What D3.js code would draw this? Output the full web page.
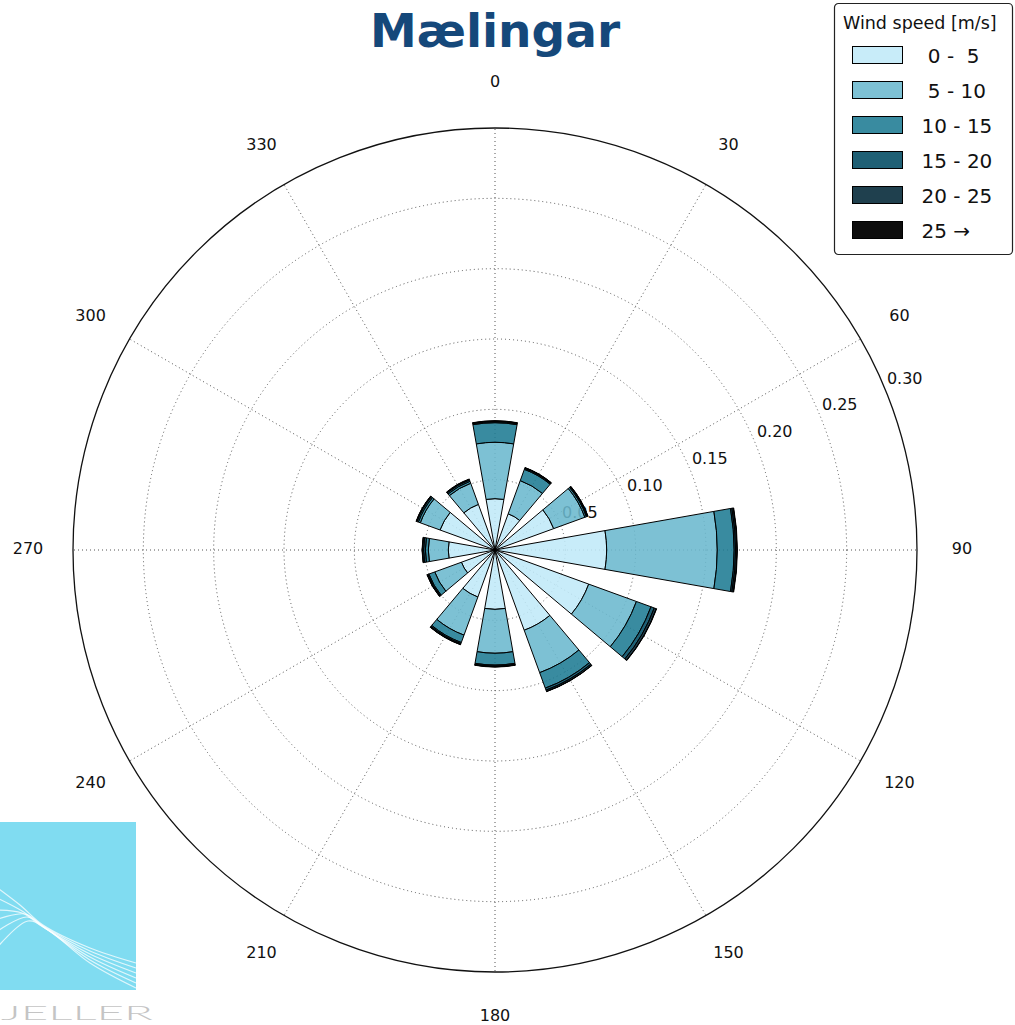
<!DOCTYPE html>
<html>
<head>
<meta charset="utf-8">
<script src="https://cdn.jsdelivr.net/npm/d3@7"></script>
<style>
  body { margin: 0; background: #fff; }
  text { font-family: "DejaVu Sans", Verdana, sans-serif; }
</style>
</head>
<body>
<svg id="chart" width="1015" height="1025"></svg>
<script>
// Wind directions (degrees, clockwise from north)
const directions = [0, 30, 60, 90, 120, 150, 180, 210, 240, 270, 300, 330];

// Wind speed classes and their colours
const speedLabels = [" 0 -  5", " 5 - 10", "10 - 15", "15 - 20", "20 - 25", "25 \u2192"];
const speedColors = ["#c0e9f8", "#6bb8ce", "#1e7b93", "#004a62", "#002636", "#000000"];

// Frequency of each speed class per direction (fraction of all records)
const freq0to5   = [0.0365, 0.0274, 0.0444, 0.0794, 0.0709, 0.0607, 0.0422, 0.0356, 0.0254, 0.0332, 0.0416, 0.0345];
const freq5to10  = [0.0401, 0.0251, 0.0236, 0.0786, 0.0361, 0.0321, 0.0312, 0.0288, 0.0202, 0.0142, 0.0149, 0.0160];
const freq10to15 = [0.0139, 0.0085, 0.0012, 0.0120, 0.0110, 0.0117, 0.0084, 0.0056, 0.0044, 0.0021, 0.0015, 0.0015];
const freq15to20 = [0.0007, 0.0007, 0.0006, 0.0010, 0.0025, 0.0015, 0.0007, 0.0008, 0.0007, 0.0013, 0.0010, 0.0010];
const freq20to25 = [0.0005, 0.0005, 0.0004, 0.0010, 0.0015, 0.0010, 0.0005, 0.0007, 0.0006, 0.0009, 0.0005, 0.0005];
const freq25up   = [0.0002, 0.0002, 0.0002, 0.0003, 0.0003, 0.0002, 0.0002, 0.0002, 0.0002, 0.0002, 0.0002, 0.0002];

// Axis ticks
const radialTicks = [0.05, 0.10, 0.15, 0.20, 0.25, 0.30];
const angleTicks = [0, 30, 60, 90, 120, 150, 180, 210, 240, 270, 300, 330];
const chartTitle = "M\u00e6lingar";
const legendTitle = "Wind speed [m/s]";

const svg = d3.select("#chart");
const cx = 495, cy = 550, R = 422;
const rMax = 0.30;
const sectorWidth = 20; // degrees of each bar
const toRad = d => d * Math.PI / 180;

const r = d3.scaleLinear().domain([0, rMax]).range([0, R]);

// ---------- logo (bottom left) ----------
const logo = svg.append("g").attr("class", "logo");
logo.append("rect")
  .attr("x", 0).attr("y", 822).attr("width", 136).attr("height", 168)
  .attr("fill", "#80dcf1");
const logoCurves = [
  [[-5, 886], [20, 905], [43, 925], [90, 948], [136, 963]],
  [[-5, 897], [22, 911], [43, 926], [90, 951], [136, 968]],
  [[-5, 910], [22, 913], [43, 927], [90, 954], [136, 973]],
  [[-5, 920], [25, 914], [44, 927], [90, 957], [136, 978]],
  [[-5, 933], [27, 917], [45, 928], [90, 960], [136, 983]],
  [[-5, 950], [28, 921], [48, 930], [90, 963], [136, 988]]
];
const logoLine = d3.line().curve(d3.curveCatmullRom.alpha(0.5));
logo.selectAll("path.wave").data(logoCurves).join("path")
  .attr("class", "wave")
  .attr("d", logoLine)
  .attr("fill", "none")
  .attr("stroke", "#ffffff")
  .attr("stroke-opacity", 0.75)
  .attr("stroke-width", 1.2);
logo.append("text")
  .attr("x", 1).attr("y", 1020)
  .attr("textLength", 152).attr("lengthAdjust", "spacingAndGlyphs")
  .attr("font-size", 20)
  .attr("fill", "#c4c4c4")
  .style("font-family", "Lato, 'Open Sans', sans-serif")
  .style("font-weight", 300)
  .text("JELLER");

// ---------- polar grid ----------
const grid = svg.append("g").attr("transform", `translate(${cx},${cy})`);

grid.selectAll("circle.ring").data(radialTicks.filter(t => t < rMax)).join("circle")
  .attr("class", "ring")
  .attr("r", d => r(d))
  .attr("fill", "none")
  .attr("stroke", "#555")
  .attr("stroke-width", 1)
  .attr("stroke-dasharray", "1,3");

grid.selectAll("line.spoke").data(angleTicks).join("line")
  .attr("class", "spoke")
  .attr("x1", 0).attr("y1", 0)
  .attr("x2", d => R * Math.sin(toRad(d)))
  .attr("y2", d => -R * Math.cos(toRad(d)))
  .attr("stroke", "#555")
  .attr("stroke-width", 1)
  .attr("stroke-dasharray", "1,3");

grid.append("circle")
  .attr("r", R)
  .attr("fill", "none")
  .attr("stroke", "#111")
  .attr("stroke-width", 1.3);

// angle labels
grid.selectAll("text.angle").data(angleTicks).join("text")
  .attr("class", "angle")
  .attr("x", d => (R + 45) * Math.sin(toRad(d)))
  .attr("y", d => -(R + 45) * Math.cos(toRad(d)) - 1.5)
  .attr("text-anchor", "middle")
  .attr("dominant-baseline", "central")
  .attr("font-size", 16)
  .attr("fill", "#111")
  .text(d => d);

// radial labels along 67.5 degrees
const labelAngle = toRad(67.5);
grid.selectAll("text.rlabel").data(radialTicks).join("text")
  .attr("class", "rlabel")
  .attr("x", d => r(d) * Math.sin(labelAngle) + 2)
  .attr("y", d => -r(d) * Math.cos(labelAngle) - 5)
  .attr("font-size", 16)
  .attr("fill", "#111")
  .text(d => d3.format(".2f")(d));

// ---------- stacked wind rose bars ----------
const seriesValues = [freq0to5, freq5to10, freq10to15, freq15to20, freq20to25, freq25up];
const segments = [];
directions.forEach((dir, i) => {
  let acc = 0;
  seriesValues.forEach((vals, k) => {
    segments.push({ dir, k, r0: acc, r1: acc + vals[i] });
    acc += vals[i];
  });
});

const arc = d3.arc()
  .innerRadius(d => r(d.r0))
  .outerRadius(d => r(d.r1))
  .startAngle(d => toRad(d.dir - sectorWidth / 2))
  .endAngle(d => toRad(d.dir + sectorWidth / 2));

grid.selectAll("path.bar").data(segments).join("path")
  .attr("class", "bar")
  .attr("d", arc)
  .attr("fill", d => speedColors[d.k])
  .attr("fill-opacity", 0.88)
  .attr("stroke", "#000")
  .attr("stroke-width", 1)
  .attr("stroke-linejoin", "miter");

// ---------- title ----------
svg.append("text")
  .attr("x", 495).attr("y", 47)
  .attr("text-anchor", "middle")
  .attr("font-size", 47)
  .attr("font-weight", "bold")
  .attr("fill", "#15487a")
  .text(chartTitle);

// ---------- legend ----------
const legend = svg.append("g").attr("transform", "translate(834.5,3.5)");
legend.append("rect")
  .attr("width", 178).attr("height", 251).attr("rx", 4)
  .attr("fill", "#fff").attr("stroke", "#222").attr("stroke-width", 1.2);
legend.append("text")
  .attr("x", 8.5).attr("y", 25.5)
  .attr("font-size", 17.5)
  .attr("fill", "#111")
  .text(legendTitle);
const items = legend.selectAll("g.item").data(speedLabels).join("g")
  .attr("class", "item")
  .attr("transform", (d, i) => `translate(0,${51.5 + i * 35})`);
items.append("rect")
  .attr("x", 18).attr("y", -8.5).attr("width", 50).attr("height", 17)
  .attr("fill", (d, i) => speedColors[i])
  .attr("fill-opacity", (d, i) => i === speedLabels.length - 1 ? 0.95 : 0.88)
  .attr("stroke", "#000").attr("stroke-width", 1);
items.append("text")
  .attr("x", 87).attr("y", 7.5)
  .attr("font-size", 20)
  .attr("fill", "#111")
  .attr("xml:space", "preserve")
  .style("white-space", "pre")
  .text(d => d);
</script>
</body>
</html>
